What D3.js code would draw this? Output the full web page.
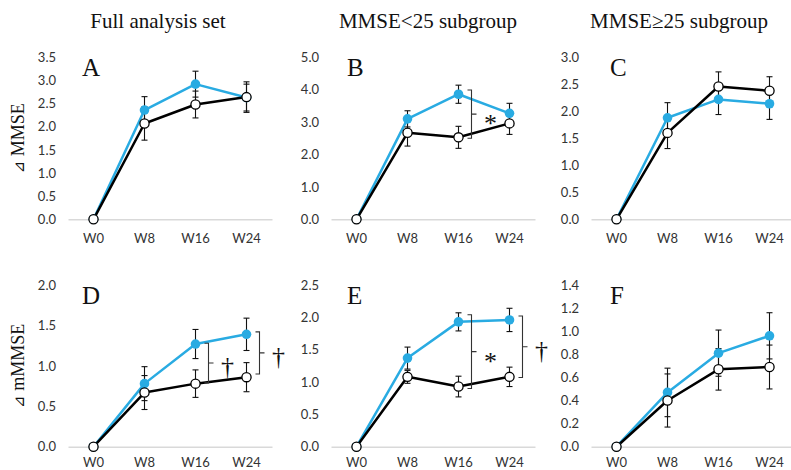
<!DOCTYPE html>
<html><head><meta charset="utf-8">
<script src="https://cdn.jsdelivr.net/npm/d3@7"></script>
<style>
html,body{margin:0;padding:0;background:#fff;}
svg{display:block;}
</style></head>
<body>
<svg id="chart" width="791" height="470"></svg>
<script>
// ---------- data ----------
const weeks = ["W0", "W8", "W16", "W24"];
const columnTitles = ["Full analysis set", "MMSE<25 subgroup", "MMSE\u226525 subgroup"];
const panelLetters = ["A", "B", "C", "D", "E", "F"];
const rowTitleSymbol = "\u22BF";
const rowTitles = ["MMSE", "mMMSE"];

const yMaxA = 3.5, yMaxB = 5.0, yMaxC = 3.0, yMaxD = 2.0, yMaxE = 2.5, yMaxF = 1.4;
const yStepA = 0.5, yStepB = 1.0, yStepC = 0.5, yStepD = 0.5, yStepE = 0.5, yStepF = 0.2;

// blue (filled) series: mean and SE
const blueA = [0, 2.36, 2.92, 2.63], blueSeA = [0, 0.29, 0.28, 0.29];
const blueB = [0, 3.10, 3.86, 3.27], blueSeB = [0, 0.25, 0.28, 0.31];
const blueC = [0, 1.88, 2.22, 2.14], blueSeC = [0, 0.28, 0.28, 0.29];
const blueD = [0, 0.78, 1.27, 1.39], blueSeD = [0, 0.21, 0.18, 0.20];
const blueE = [0, 1.37, 1.93, 1.96], blueSeE = [0, 0.17, 0.14, 0.18];
const blueF = [0, 0.47, 0.81, 0.96], blueSeF = [0, 0.21, 0.20, 0.20];
// black (open) series: mean and SE
const blackA = [0, 2.07, 2.48, 2.64], blackSeA = [0, 0.36, 0.29, 0.33];
const blackB = [0, 2.67, 2.53, 2.96], blackSeB = [0, 0.41, 0.34, 0.34];
const blackC = [0, 1.60, 2.46, 2.38], blackSeC = [0, 0.29, 0.27, 0.26];
const blackD = [0, 0.67, 0.78, 0.86], blackSeD = [0, 0.21, 0.17, 0.18];
const blackE = [0, 1.08, 0.93, 1.08], blackSeE = [0, 0.10, 0.16, 0.15];
const blackF = [0, 0.40, 0.67, 0.69], blackSeF = [0, 0.23, 0.18, 0.19];

// significance brackets: panel index, week, low value, high value, symbol
const bracketPanel = [1, 3, 3, 4, 4];
const bracketWeek = ["W16", "W16", "W24", "W16", "W24"];
const bracketLo = [2.50, 0.79, 0.90, 0.90, 1.07];
const bracketHi = [3.99, 1.28, 1.42, 2.04, 2.02];
const bracketSymbol = ["*", "\u2020", "\u2020", "*", "\u2020"];

// ---------- layout ----------
const panels = [
  {max: yMaxA, step: yStepA, blue: blueA, blueSe: blueSeA, black: blackA, blackSe: blackSeA},
  {max: yMaxB, step: yStepB, blue: blueB, blueSe: blueSeB, black: blackB, blackSe: blackSeB},
  {max: yMaxC, step: yStepC, blue: blueC, blueSe: blueSeC, black: blackC, blackSe: blackSeC},
  {max: yMaxD, step: yStepD, blue: blueD, blueSe: blueSeD, black: blackD, blackSe: blackSeD},
  {max: yMaxE, step: yStepE, blue: blueE, blueSe: blueSeE, black: blackE, blackSe: blackSeE},
  {max: yMaxF, step: yStepF, blue: blueF, blueSe: blueSeF, black: blackF, blackSe: blackSeF}
];
const colLeft = [68, 331, 591];
const colWidth = 204;
const rowBottom = [219.3, 446.7];
const rowTop = [57.3, 285];
const rowLabelPad = [14, 11];
const letterDx = [14, 16, 19];
const titleX = [158, 428, 679];

const BLUE = "#29abe2";
const svg = d3.select("#chart");
const tickFont = "Lato, 'Noto Sans', sans-serif";
const serif = "'Liberation Serif', 'Times New Roman', serif";

// column titles
svg.selectAll("text.ctitle").data(columnTitles).enter().append("text")
  .attr("class", "ctitle")
  .attr("x", (d, i) => titleX[i]).attr("y", 28)
  .attr("text-anchor", "middle")
  .style("font-family", serif).style("font-size", "21px").attr("fill", "#111")
  .text(d => d);

// row titles
rowTitles.forEach((t, r) => {
  const cy = (rowBottom[r] + rowTop[r]) / 2;
  const tt = svg.append("text")
    .attr("transform", `translate(24,${cy}) rotate(-90)`)
    .attr("text-anchor", "middle")
    .style("font-family", serif).style("font-size", "18px").attr("fill", "#111");
  tt.append("tspan").style("font-family", "'DejaVu Sans', sans-serif").style("font-size", "15px")
    .text(rowTitleSymbol);
  tt.append("tspan").text(" " + t);
});

const scales = [];
panels.forEach((p, i) => {
  const col = i % 3, row = Math.floor(i / 3);
  const x = d3.scaleBand().domain(weeks).range([colLeft[col], colLeft[col] + colWidth]);
  const y = d3.scaleLinear().domain([0, p.max]).range([rowBottom[row], rowTop[row]]);
  scales.push({x, y});
  const cx = w => x(w) + x.bandwidth() / 2;
  const g = svg.append("g");

  // y tick labels (no axis line)
  const ticks = d3.range(0, p.max + p.step / 2, p.step);
  const yAxis = d3.axisLeft(y).tickValues(ticks).tickSize(0).tickPadding(12)
    .tickFormat(d3.format(".1f"));
  const ya = g.append("g").attr("transform", `translate(${colLeft[col]},0)`).call(yAxis);
  ya.select(".domain").remove();
  ya.selectAll("text").style("font-family", tickFont).style("font-size", "13px").attr("fill", "#333");

  // x axis
  const xAxis = d3.axisBottom(x).tickSize(0).tickPadding(rowLabelPad[row]);
  const xa = g.append("g").attr("transform", `translate(0,${rowBottom[row]})`).call(xAxis);
  xa.select(".domain").attr("stroke", "#d9d9d9").attr("stroke-width", 1.5);
  xa.selectAll("text").style("font-family", tickFont).style("font-size", "13px").attr("fill", "#333");

  // panel letter
  g.append("text").attr("x", colLeft[col] + letterDx[col]).attr("y", row === 0 ? 76 : 303.5)
    .style("font-family", serif).style("font-size", "25px").attr("fill", "#111")
    .text(panelLetters[i]);

  const line = d3.line().x((d, k) => cx(weeks[k])).y(d => y(d));
  g.append("path").datum(p.blue).attr("d", line).attr("fill", "none")
    .attr("stroke", BLUE).attr("stroke-width", 2.5).attr("stroke-linejoin", "round");
  g.append("path").datum(p.black).attr("d", line).attr("fill", "none")
    .attr("stroke", "#000").attr("stroke-width", 2.5).attr("stroke-linejoin", "round");

  // error bars
  const errs = [];
  weeks.forEach((w, k) => {
    if (p.blueSe[k] > 0) errs.push({w, m: p.blue[k], s: p.blueSe[k]});
    if (p.blackSe[k] > 0) errs.push({w, m: p.black[k], s: p.blackSe[k]});
  });
  const eg = g.append("g").attr("stroke", "#111").attr("stroke-width", 1.1).attr("fill", "none");
  errs.forEach(e => {
    const xx = cx(e.w), y1 = y(e.m + e.s), y2 = y(e.m - e.s);
    eg.append("line").attr("x1", xx).attr("x2", xx).attr("y1", y1).attr("y2", y2);
    eg.append("line").attr("x1", xx - 3).attr("x2", xx + 3).attr("y1", y1).attr("y2", y1);
    eg.append("line").attr("x1", xx - 3).attr("x2", xx + 3).attr("y1", y2).attr("y2", y2);
  });

  // markers
  g.selectAll("circle.b").data(p.blue).enter().append("circle")
    .attr("cx", (d, k) => cx(weeks[k])).attr("cy", d => y(d)).attr("r", 4.8)
    .attr("fill", BLUE);
  g.selectAll("circle.k").data(p.black).enter().append("circle")
    .attr("cx", (d, k) => cx(weeks[k])).attr("cy", d => y(d)).attr("r", 4.6)
    .attr("fill", "#fff").attr("stroke", "#000").attr("stroke-width", 1.3);
});

// brackets
bracketPanel.forEach((pi, j) => {
  const {x, y} = scales[pi];
  const cx = x(bracketWeek[j]) + x.bandwidth() / 2;
  const vx = cx + 13;
  const yt = y(bracketHi[j]), yb = y(bracketLo[j]), ym = (yt + yb) / 2;
  svg.append("path")
    .attr("d", `M${vx - 4},${yt}H${vx}V${yb}H${vx - 4}M${vx},${ym}H${vx + 5}`)
    .attr("fill", "none").attr("stroke", "#333").attr("stroke-width", 1.1);
  const isStar = bracketSymbol[j] === "*";
  svg.append("text")
    .attr("x", cx + 32).attr("y", isStar ? ym + 18 : ym + 12)
    .attr("text-anchor", "middle")
    .style("font-family", serif).style("font-size", "26px").attr("fill", "#111")
    .text(bracketSymbol[j]);
});
</script>
</body></html>
